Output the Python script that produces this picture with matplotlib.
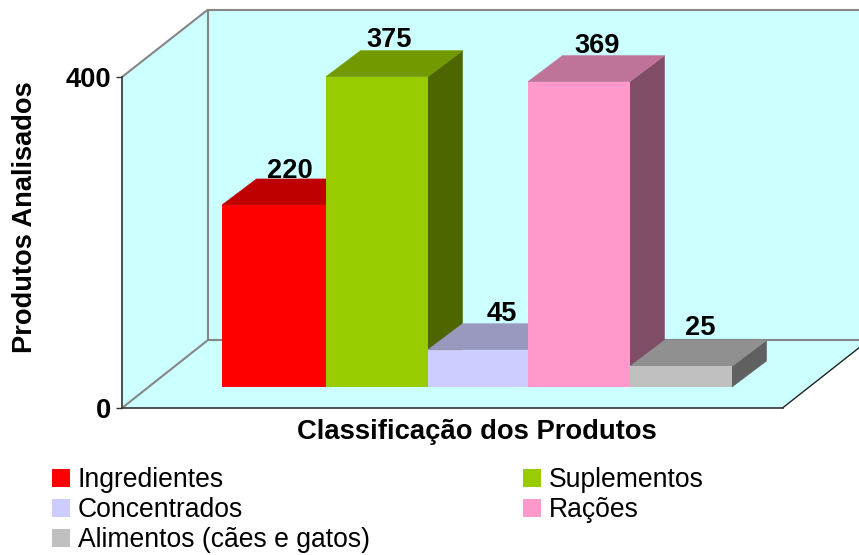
import matplotlib
matplotlib.use("Agg")
import matplotlib.pyplot as plt
from matplotlib.patches import Polygon, Patch

plt.rcParams['font.family'] = ['Liberation Sans', 'DejaVu Sans']

categories = ['Ingredientes', 'Suplementos', 'Concentrados', 'Rações', 'Alimentos (cães e gatos)']
values = [220, 375, 45, 369, 25]
front_colors = ['#FF0000', '#99CC00', '#CCCCFF', '#FF99CC', '#C0C0C0']
top_colors = ['#BF0000', '#739900', '#9999BF', '#BF7399', '#909090']
side_colors = ['#800000', '#4D6600', '#666680', '#804D66', '#606060']
axis_ticks = [0, 400]
x_title = 'Classificação dos Produtos'
y_title = 'Produtos Analisados'

W, H = 859, 555
FS = 19.1
FSB = 19.6
PX_X = 102.0    # pixels per category
PX_Y = 0.8275   # pixels per value unit
X0 = 222.0      # left pixel of first bar
Y0 = 387.0      # base pixel of bars
DX, DY = 34.5, 26.0
EDGE_SHIFT = [0, 2, 2, 0, 0, 0]          # small pixel offsets of the bar edges
LABEL_DX = [0, -3, 8, 1, 2]              # label nudges, pixels
LABEL_DY = [6.5, 4, 5, 5, 2]

fig = plt.figure(figsize=(W / 100, H / 100), dpi=100, facecolor='white')
ax = fig.add_axes([0, 0, 1, 1])
ax.set_xlim(-0.5 - X0 / PX_X, -0.5 + (W - X0) / PX_X)
ax.set_ylim(-(H - Y0) / PX_Y, Y0 / PX_Y)
ax.axis('off')

def px(x, y):
    return (x - X0) / PX_X - 0.5, (Y0 - y) / PX_Y

# walls and floor
WALL = '#CCFFFF'
GRID = '#868686'
ax.add_patch(Polygon([px(122, 77), px(208, 9.5), px(208, 340), px(122, 408)], fc=WALL, ec='none', zorder=1))
ax.add_patch(Polygon([px(208, 9.5), px(860, 9.5), px(860, 340), px(208, 340)], fc=WALL, ec='none', zorder=1))
ax.add_patch(Polygon([px(122, 408), px(208, 340), px(860, 340), px(860, 347), px(782.5, 408)], fc=WALL, ec='none', zorder=1))
for a, b in [((122, 77), (208, 9.5)), ((208, 9.5), (860, 9.5)), ((208, 9.5), (208, 340)),
             ((208, 340), (860, 340)), ((208, 340), (122, 408))]:
    xa, ya = px(*a); xb, yb = px(*b)
    ax.plot([xa, xb], [ya, yb], color=GRID, lw=1.5, zorder=2, solid_capstyle='butt')
xa, ya = px(782.5, 408); xb, yb = px(860, 347)
ax.plot([xa, xb], [ya, yb], color='#222222', lw=1.0, zorder=2)

# 3D bars
dx = DX / PX_X
dv = DY / PX_Y
for i, v in enumerate(values):
    z = 3 + i
    l = i - 0.5 + EDGE_SHIFT[i] / PX_X
    r = i + 0.5 + EDGE_SHIFT[i + 1] / PX_X
    ax.add_patch(Polygon([(r, 0), (r + dx, dv), (r + dx, v + dv), (r, v)], fc=side_colors[i],
                         ec=side_colors[i], lw=0.4, zorder=z))
    ax.add_patch(Polygon([(l, v), (l + dx, v + dv), (r + dx, v + dv), (r, v)], fc=top_colors[i],
                         ec=top_colors[i], lw=0.4, zorder=z))
    ax.bar((l + r) / 2, v, width=r - l, color=front_colors[i], zorder=z + 0.1)
for i, v in enumerate(values):
    ax.text(i + dx / 2 + LABEL_DX[i] / PX_X, v + dv + (1.5 - LABEL_DY[i]) / PX_Y, str(v), ha='center', va='bottom',
            fontsize=FSB, fontweight='bold', color='black', zorder=20)

# value axis on the front plane
ax2 = fig.add_axes([122 / W, (H - 408) / H, (782.5 - 122) / W, (408 - 77) / H])
ax2.patch.set_visible(False)
ax2.set_ylim(0, 400)
ax2.set_xticks([])
ax2.set_yticks(axis_ticks)
ax2.tick_params(axis='y', length=4.3, width=1.0, color='#333333', pad=3.5, labelsize=FSB)
for t in ax2.get_yticklabels():
    t.set_fontweight('bold')
for s in ['top', 'right']:
    ax2.spines[s].set_visible(False)
for s in ['left', 'bottom']:
    ax2.spines[s].set_color('#333333')
    ax2.spines[s].set_linewidth(1.2)

fig.text(476.5 / W, 1 - 432 / H, x_title, ha='center', va='center', fontsize=19.75, fontweight='bold')
fig.text(25.5 / W, 1 - 217 / H, y_title, ha='center', va='center', rotation=90, fontsize=FSB, fontweight='bold')

# legend, laid out by column
order = [0, 2, 4, 1, 3]
handles = [Patch(fc=front_colors[i], ec='none', label=categories[i]) for i in order]
fig.legend(handles=handles, ncol=2, loc='upper left', bbox_to_anchor=(52 / W, 1 - 467 / H),
           frameon=False, fontsize=FS, borderpad=0, borderaxespad=0, handlelength=0.66, handleheight=0.66,
           handletextpad=0.32, labelspacing=0.16, columnspacing=5.77)

fig.savefig('out.png', dpi=100)
